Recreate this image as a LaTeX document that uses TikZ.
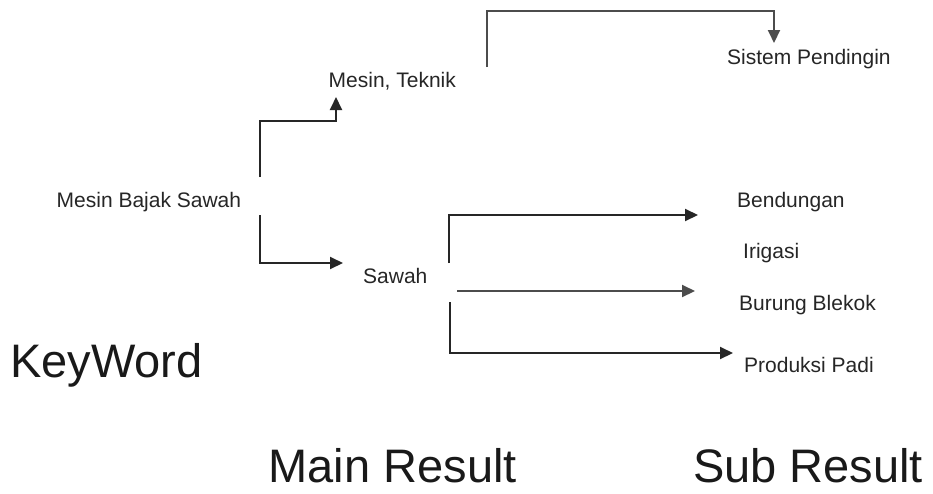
\documentclass[tikz,border=0pt]{standalone}
\usepackage{fontspec}
\setmainfont{Liberation Sans}
\usetikzlibrary{arrows.meta}
\begin{document}
\begin{tikzpicture}[x=1pt,y=-1pt,
  lbl/.style={anchor=base west,inner sep=0pt,text=black!85,font=\fontsize{21}{24}\selectfont},
  big/.style={anchor=base west,inner sep=0pt,text=black!90,font=\fontsize{47}{54}\selectfont},
  conn/.style={draw=black!85,line width=2pt,-{Triangle[length=13pt,width=12pt]}},
  connlight/.style={conn,draw=black!70}]
\useasboundingbox (0,0) rectangle (933,493);
\fill[white] (0,0) rectangle (933,493);
% nodes
\node[lbl] (mbs) at (56.5,207) {Mesin Bajak Sawah};
\node[lbl] (mt) at (328.5,87) {Mesin, Teknik};
\node[lbl] (sw) at (363,283) {Sawah};
\node[lbl] (sp) at (727,64) {Sistem Pendingin};
\node[lbl] (bd) at (737,207) {Bendungan};
\node[lbl] (ir) at (743,258) {Irigasi};
\node[lbl] (bb) at (739,310) {Burung Blekok};
\node[lbl] (pp) at (744,372) {Produksi Padi};
\node[big] (kw) at (10,377) {KeyWord};
\node[big] (mr) at (268.5,482) {Main Result};
\node[big] (sr) at (693,482) {Sub Result};
% connector ends
\coordinate (mbsUp) at (260,177);
\coordinate (mtIn) at (336,97);
\coordinate (mbsDn) at (260,215);
\coordinate (swIn) at (343,263);
\coordinate (mtOut) at (487,67);
\coordinate (spIn) at (774,43);
\coordinate (swUp) at (449,263);
\coordinate (bdIn) at (698,215);
\coordinate (swMid) at (457,291);
\coordinate (bbIn) at (695,291);
\coordinate (swDn) at (450,302);
\coordinate (ppIn) at (733,353);
% connectors
\draw[conn] (mbsUp) -- (mbsUp |- 0,121) -| (mtIn);
\draw[conn] (mbsDn) |- (swIn);
\draw[connlight] (mtOut) -- (mtOut |- 0,11) -| (spIn);
\draw[conn] (swUp) |- (bdIn);
\draw[connlight] (swMid) -- (bbIn);
\draw[conn] (swDn) |- (ppIn);
\end{tikzpicture}
\end{document}
